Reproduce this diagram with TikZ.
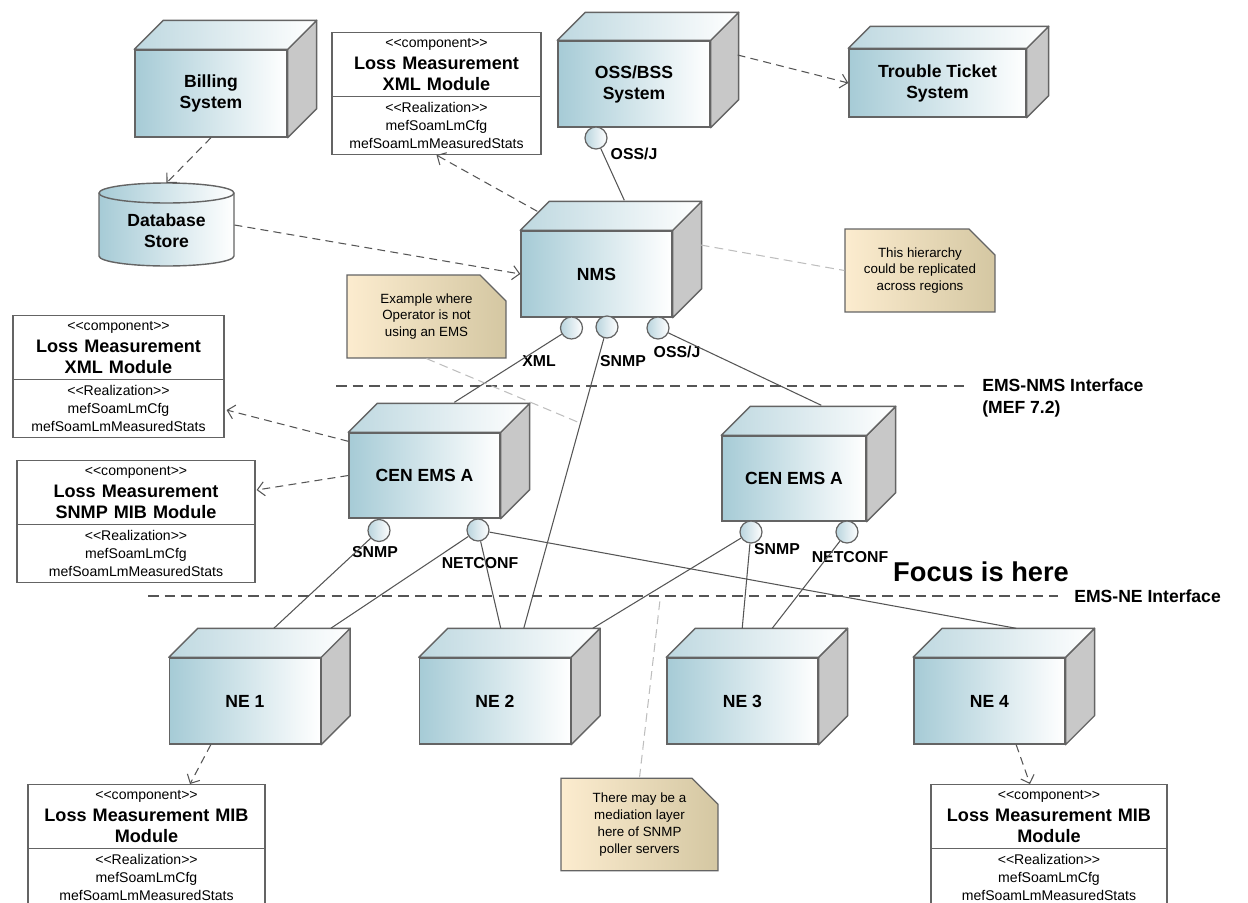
\documentclass[tikz,border=0pt]{standalone}
\usepackage{fontspec}
\setmainfont{Liberation Sans}
\usetikzlibrary{shapes.multipart,shapes.misc,arrows.meta,positioning,calc,backgrounds}

\definecolor{boxblue}{RGB}{166,203,214}
\definecolor{boxtop}{RGB}{190,216,224}
\definecolor{boxside}{RGB}{200,200,200}
\definecolor{boxline}{RGB}{100,100,100}
\definecolor{portblue}{RGB}{185,212,222}
\definecolor{notelight}{RGB}{252,236,207}
\definecolor{notedark}{RGB}{212,199,162}
\definecolor{linkgray}{RGB}{85,85,85}
\definecolor{notegray}{RGB}{190,190,190}

% stereotype text and the shared realization part
\newcommand{\stereo}[1]{{\fontsize{8}{10}\selectfont<\kern0pt<#1>\kern0pt>}}
\newcommand{\lmrealization}{\fontsize{8}{10}\selectfont<\kern0pt<Realization>\kern0pt>\\mefSoamLmCfg\\mefSoamLmMeasuredStats\par}

% top and side faces of a device box
\newcommand{\devicefaces}[2][29]{%
  \filldraw[draw=boxline, fill=boxside, line width=0.8pt, line join=round]
    (#2.north east) -- ++(#1,-#1) -- ($(#2.south east)+(#1,-#1)$) -- (#2.south east) -- cycle;
  \shadedraw[draw=boxline, left color=boxtop, right color=white, line width=0.8pt, line join=round]
    (#2.north west) -- ++(#1,-#1) -- ($(#2.north east)+(#1,-#1)$) -- (#2.north east) -- cycle;
}

\begin{document}
\begin{tikzpicture}[
    x=0.02cm, y=-0.02cm,
    device/.style={rectangle, draw=boxline, line width=0.8pt, left color=boxblue, right color=white, minimum width=3.02cm, minimum height=1.72cm, align=center, font=\fontsize{10}{12}\selectfont\bfseries, inner sep=2pt},
    port/.style={circle, draw=boxline, line width=0.7pt, left color=portblue, right color=white, minimum size=0.44cm, inner sep=0pt},
    portlabel/.style={font=\fontsize{9}{10}\selectfont\bfseries, inner sep=0pt},
    comp/.style={rectangle split, rectangle split parts=2, draw=boxline, line width=0.7pt, fill=white, align=center, inner xsep=0pt, inner ysep=3.2pt, font=\fontsize{10.3}{12}\selectfont, anchor=north},
    note/.style={chamfered rectangle, chamfered rectangle corners=north east, chamfered rectangle xsep=0.26cm, chamfered rectangle ysep=0.26cm, draw=boxline, line width=0.7pt, left color=notelight, right color=notedark, minimum height=1.66cm, align=center, font=\fontsize{7.6}{9.6}\selectfont, inner sep=1pt},
    dep/.style={draw=linkgray, line width=0.6pt, dash pattern=on 4.5pt off 3pt, -{Straight Barb[length=4pt,width=8pt]}},
    link/.style={draw=linkgray, line width=0.6pt},
    notelink/.style={draw=notegray, line width=0.6pt, dash pattern=on 5pt off 3pt},
    iface/.style={draw=linkgray, line width=0.6pt, dash pattern=on 6pt off 3.5pt},
    node distance=5cm
]
    \useasboundingbox (0,0) rectangle (1248,903);

    % Interface borders
    \coordinate (nmsleft) at (336,386);
    \coordinate (nmsright) at (967,386);
    \coordinate (neleft) at (148,596);
    \coordinate (neright) at (1058,596);
    \draw[iface] (nmsleft) -- (nmsright);
    \draw[iface] (neleft) -- (neright);
    \node[anchor=west, align=left, inner sep=0pt, font=\fontsize{10}{12.5}\selectfont\bfseries] (nmsiface) at (982,398) {EMS-NMS Interface\\(MEF 7.2)};
    \node[anchor=west, inner sep=0pt, font=\fontsize{10}{12}\selectfont\bfseries] (neiface) at (1074,596) {EMS-NE Interface};
    \node[font=\fontsize{15.5}{18}\selectfont\bfseries, inner sep=0pt] (focus) at (981,572) {Focus is here};

    % Systems on top
    \node[device, minimum width=3.04cm, minimum height=1.74cm] (billing) at (211,93.5) {Billing\\System};
    \devicefaces{billing}
    \node[device, minimum width=3.04cm] (oss) at (634,84) {OSS/BSS\\System};
    \devicefaces[28]{oss}
    \node[device, minimum width=3.54cm, minimum height=1.36cm] (tt) at (937.5,83) {Trouble Ticket\\System};
    \devicefaces[22]{tt}
    \node[device] (nms) at (596.5,274) {NMS};
    \devicefaces[29]{nms}

    % Database store
    \node[align=center, font=\fontsize{10}{12}\selectfont\bfseries, minimum width=2.7cm] (db) at (166.5,231) {Database\\Store};
    \begin{scope}[on background layer]
        \shadedraw[draw=boxline, left color=boxblue, right color=white, line width=0.8pt]
            ($(db.center)+(-67.5,-38)$) -- ($(db.center)+(-67.5,25)$)
            arc[start angle=180, end angle=360, x radius=1.35cm, y radius=0.2cm]
            -- ($(db.center)+(67.5,-38)$)
            arc[start angle=0, end angle=180, x radius=1.35cm, y radius=0.2cm] -- cycle;
        \draw[boxline, line width=0.8pt] ($(db.center)+(-67.5,-38)$)
            arc[start angle=180, end angle=360, x radius=1.35cm, y radius=0.2cm];
    \end{scope}

    % EMS layer
    \node[device, minimum height=1.70cm] (ems1) at (424.5,475.5) {CEN EMS A};
    \devicefaces{ems1}
    \node[device, minimum width=2.88cm, minimum height=1.70cm] (ems2) at (794,478.5) {CEN EMS A};
    \devicefaces[29]{ems2}

    % Network elements
    \node[device] (ne1) at (245,701) {NE 1};
    \node[device, right of=ne1] (ne2) {NE 2};
    \node[device, right of=ne2, node distance=4.95cm] (ne3) {NE 3};
    \node[device, right of=ne3, node distance=4.94cm] (ne4) {NE 4};
    \devicefaces{ne1}
    \devicefaces{ne2}
    \devicefaces{ne3}
    \devicefaces{ne4}

    % Components
    \node[comp, text width=4.18cm] (lmxml1) at (436.5,32) {\stereo{component}\\{\bfseries Loss Measurement\\XML Module}\nodepart{two}\lmrealization};
    \node[comp, text width=4.22cm] (lmxml2) at (118.5,315) {\stereo{component}\\{\bfseries Loss Measurement\\XML Module}\nodepart{two}\lmrealization};
    \node[comp, text width=4.76cm] (lmsnmp) at (136,460) {\stereo{component}\\{\bfseries Loss Measurement\\SNMP MIB Module}\nodepart{two}\lmrealization};
    \node[comp, text width=4.74cm] (lmmib1) at (146.5,784) {\stereo{component}\\{\bfseries Loss Measurement MIB\\Module}\nodepart{two}\lmrealization};
    \node[comp, text width=4.72cm] (lmmib2) at (1049,784) {\stereo{component}\\{\bfseries Loss Measurement MIB\\Module}\nodepart{two}\lmrealization};

    % Notes
    \node[note, minimum width=3.0cm] (note1) at (920,270.5) {This hierarchy\\could be replicated\\across regions};
    \node[note, minimum width=3.18cm] (note2) at (426.5,316.5) {Example where\\Operator is not\\using an EMS};
    \node[note, minimum width=3.14cm] (note3) at (639.5,824.5) {There may be a\\mediation layer\\here of SNMP\\poller servers};
    \coordinate (n2end) at (580,423);
    \coordinate (n3end) at (660,600);

    % Interface lollipops
    \node[port] (ossj) at (596,138) {};
    \node[port] (nmsxml) at (571.5,328) {};
    \node[port] (nmssnmp) at (607,327) {};
    \node[port] (nmsossj) at (658,328) {};
    \node[port] (e1snmp) at (379,530.5) {};
    \node[port] (e1netconf) at (478,530) {};
    \node[port] (e2snmp) at (751,532) {};
    \node[port] (e2netconf) at (847,532) {};
    \node[portlabel] (lblossj) at (634,154) {OSS/J};
    \node[portlabel] (lblxml) at (539,361) {XML};
    \node[portlabel] (lblsnmp) at (623,361) {SNMP};
    \node[portlabel] (lblossj2) at (677,352) {OSS/J};
    \node[portlabel] (lble1snmp) at (375,552) {SNMP};
    \node[portlabel] (lble1netconf) at (480,563) {NETCONF};
    \node[portlabel] (lble2snmp) at (777,549) {SNMP};
    \node[portlabel] (lble2netconf) at (850,557) {NETCONF};

    % Dependencies
    \draw[dep] (billing.south) -- ($(db.center)+(0,-48)$);
    \draw[dep] ($(db.center)+(68,-6)$) -- (nms.west);
    \draw[dep] ($(nms.north west)+(17,-19)$) -- (lmxml1.south);
    \draw[dep] ($(oss.east)+(27,-29)$) -- (tt.west);
    \draw[dep] ($(ems1.north west)+(0,9)$) -- ($(lmxml2.north east)+(2,95)$);
    \draw[dep] (ems1.west) -- ($(lmsnmp.north east)+(1,30)$);
    \draw[dep] ($(ne1.south west)+(42,0)$) -- ($(lmmib1.north)+(43.5,0)$);
    \draw[dep] ($(ne4.south west)+(103,0)$) -- ($(lmmib2.north)+(-19,0)$);

    % Interface links
    \draw[link] (ossj) -- ($(nms.north west)+(104,-30)$);
    \draw[link] (nmsxml) -- ($(ems1.north west)+(106,-30)$);
    \draw[link] (nmssnmp) -- ($(ne2.north west)+(105,-29)$);
    \draw[link] (nmsossj) -- ($(ems2.north west)+(100,-30)$);
    \draw[link] (e1snmp) -- ($(ne1.north west)+(105,-29)$);
    \draw[link] (e1netconf) -- ($(ne1.north west)+(162,-29)$);
    \draw[link] (e1netconf) -- ($(ne2.north west)+(82,-29)$);
    \draw[link] (e1netconf) -- ($(ne4.north west)+(103,-29)$);
    \draw[link] (e2snmp) -- ($(ne2.north west)+(174,-29)$);
    \draw[link] (e2snmp) -- ($(ne3.north west)+(76,-29)$);
    \draw[link] (e2netconf) -- ($(ne3.north west)+(106,-29)$);

    % Note attachments
    \draw[notelink] ($(nms.east)+(28,-29)$) -- (note1.west);
    \draw[notelink] (note2.south) -- (n2end);
    \draw[notelink] (note3.north) -- (n3end);
\end{tikzpicture}
\end{document}
